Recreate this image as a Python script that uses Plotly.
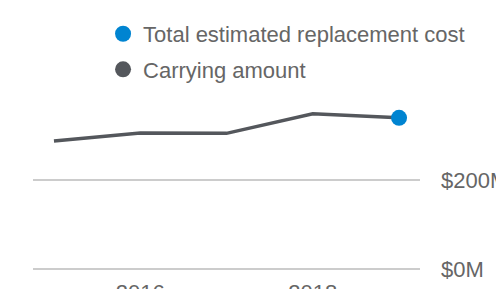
import plotly.graph_objects as go

years = [2015, 2016, 2017, 2018, 2019]
carrying_amount = [288, 306, 305, 349, 340]  # $M
replacement_year = [2019]
replacement_cost = [340]  # $M
y_tickvals = [0, 200]
y_ticktext = ["$0M", "$200M"]
x_tickvals = [2016, 2018]
x_ticktext = ["2016", "2018"]

GREY = "#54575c"
BLUE = "#0084d1"
TXT = "#666666"
FONT = "Liberation Sans, Arial, sans-serif"

fig = go.Figure()
fig.add_trace(go.Scatter(x=years, y=carrying_amount, mode="lines",
                         line=dict(color=GREY, width=3.5), showlegend=False,
                         hoverinfo="skip"))
fig.add_trace(go.Scatter(x=replacement_year, y=replacement_cost, mode="markers",
                         marker=dict(color=BLUE, size=16), showlegend=False))
# legend entries
fig.add_trace(go.Scatter(x=[None], y=[None], mode="markers", name="Total estimated replacement cost",
                         legendgroup="a", marker=dict(color=BLUE, size=18)))
fig.add_trace(go.Scatter(x=[None], y=[None], mode="markers", name="Carrying amount",
                         legendgroup="b", marker=dict(color=GREY, size=18)))

# page has an 8px body margin; figure is drawn at (8, 8)
fig.update_layout(
    width=496, height=281,
    margin=dict(l=25, r=84, t=92, b=20, autoexpand=False),
    paper_bgcolor="white", plot_bgcolor="white",
    template="none",
    font=dict(family=FONT, size=22, color=TXT),
    legend=dict(x=0.181, y=1.515, xanchor="left", yanchor="top",
                font=dict(size=22, color=TXT), traceorder="grouped",
                tracegroupgap=4, bgcolor="rgba(0,0,0,0)"),
    xaxis=dict(range=[2014.757, 2019.243], tickvals=x_tickvals, ticktext=x_ticktext,
               showgrid=False, zeroline=False, showline=False, automargin=False,
               ticklabelstandoff=8,
               tickfont=dict(size=22, color=TXT), ticks=""),
    yaxis=dict(range=[0, 380], side="right", tickvals=y_tickvals, ticktext=y_ticktext,
               showgrid=True, gridcolor="#cccccc", gridwidth=1.5,
               zeroline=True, zerolinecolor="#cccccc", zerolinewidth=1.5,
               showline=False, automargin=False, ticklabelstandoff=20,
               tickfont=dict(size=22, color=TXT), ticks=""),
)
fig.write_html("out.html")
